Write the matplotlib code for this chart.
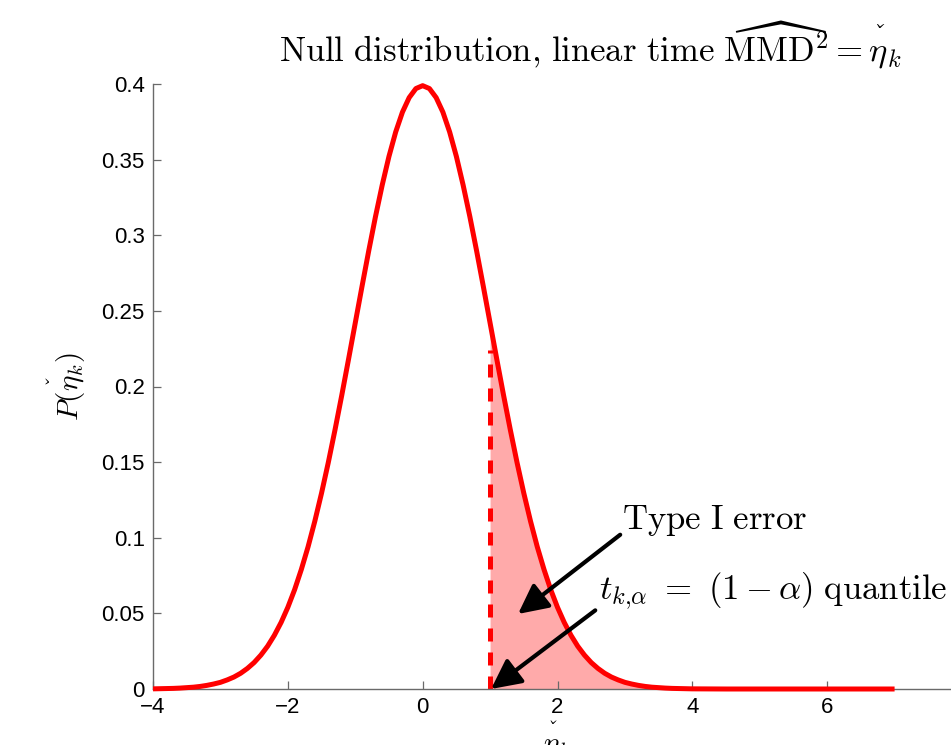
import numpy as np
import matplotlib
matplotlib.use('Agg')
import matplotlib.pyplot as plt

plt.rcParams['mathtext.fontset'] = 'cm'
plt.rcParams['font.family'] = ['Liberation Sans', 'DejaVu Sans']

# curve (null density of the statistic)
eta = [-4.0, -3.9, -3.8, -3.7, -3.6, -3.5, -3.4, -3.3, -3.2, -3.1,
       -3.0, -2.9, -2.8, -2.7, -2.6, -2.5, -2.4, -2.3, -2.2, -2.1,
       -2.0, -1.9, -1.8, -1.7, -1.6, -1.5, -1.4, -1.3, -1.2, -1.1,
       -1.0, -0.9, -0.8, -0.7, -0.6, -0.5, -0.4, -0.3, -0.2, -0.1,
       0.0, 0.1, 0.2, 0.3, 0.4, 0.5, 0.6, 0.7, 0.8, 0.9,
       1.0, 1.1, 1.2, 1.3, 1.4, 1.5, 1.6, 1.7, 1.8, 1.9,
       2.0, 2.1, 2.2, 2.3, 2.4, 2.5, 2.6, 2.7, 2.8, 2.9,
       3.0, 3.1, 3.2, 3.3, 3.4, 3.5, 3.6, 3.7, 3.8, 3.9,
       4.0, 4.5, 5.0, 5.5, 6.0, 6.5, 7.0]
dens = [0.0001, 0.0002, 0.0003, 0.0004, 0.0006, 0.0009, 0.0012, 0.0017, 0.0024, 0.0033,
        0.0044, 0.0060, 0.0079, 0.0104, 0.0136, 0.0175, 0.0224, 0.0283, 0.0355, 0.0440,
        0.0540, 0.0656, 0.0790, 0.0940, 0.1109, 0.1295, 0.1497, 0.1714, 0.1942, 0.2179,
        0.2420, 0.2661, 0.2897, 0.3123, 0.3332, 0.3521, 0.3683, 0.3814, 0.3910, 0.3970,
        0.3989, 0.3970, 0.3910, 0.3814, 0.3683, 0.3521, 0.3332, 0.3123, 0.2897, 0.2661,
        0.2420, 0.2179, 0.1942, 0.1714, 0.1497, 0.1295, 0.1109, 0.0940, 0.0790, 0.0656,
        0.0540, 0.0440, 0.0355, 0.0283, 0.0224, 0.0175, 0.0136, 0.0104, 0.0079, 0.0060,
        0.0044, 0.0033, 0.0024, 0.0017, 0.0012, 0.0009, 0.0006, 0.0004, 0.0003, 0.0002,
        0.0001, 0.0, 0.0, 0.0, 0.0, 0.0, 0.0]

quantile = 1.0        # t_{k,alpha}
quantile_top = 0.224  # top of the dashed marker

xticks = [-4, -2, 0, 2, 4, 6]
yticks = [0, 0.05, 0.1, 0.15, 0.2, 0.25, 0.3, 0.35, 0.4]
ytick_labels = ['0', '0.05', '0.1', '0.15', '0.2', '0.25', '0.3', '0.35', '0.4']

# annotation points (tail -> tip), data coords
err_text = (2.96, 0.106)
err_tail, err_tip = (2.93, 0.102), (1.415, 0.0496)
q_text = (2.62, 0.059)
q_tail, q_tip = (2.56, 0.052), (1.015, 0.0)

eta = np.array(eta)
dens = np.array(dens)

ETA = r'\overset{ˇ}{\eta}'

fig = plt.figure(figsize=(9.51, 7.45), dpi=100)
ax = fig.add_axes([153/951, 1 - 689/745, 809/951, 605/745])

ax.fill_between(eta, dens, where=eta >= quantile, color='#ffaaaa', lw=0, zorder=1)
ax.plot(eta, dens, color='red', lw=3.6, clip_on=False, zorder=3, solid_capstyle='butt')
ax.plot([quantile, quantile], [0, quantile_top], color='red', lw=3.6,
        linestyle=(0, (2.6, 2.2)), dash_capstyle='butt', zorder=2)

ax.set_xlim(-4, 8)
ax.set_ylim(0, 0.4)
ax.set_xticks(xticks)
ax.set_yticks(yticks)
ax.set_yticklabels(ytick_labels)

for s in ['top', 'right']:
    ax.spines[s].set_visible(False)
for s in ['left', 'bottom']:
    ax.spines[s].set_color('#6a6a6a')
    ax.spines[s].set_linewidth(1.0)
ax.tick_params(direction='in', length=5.5, width=0.9, color='#6a6a6a',
               labelsize=16, pad=6, labelcolor='black')

arrow = dict(arrowstyle='-|>,head_length=0.6,head_width=0.3', lw=3, color='black',
             shrinkA=0, shrinkB=0, mutation_scale=30)
ax.annotate('', xy=err_tip, xytext=err_tail, arrowprops=arrow, zorder=5)
ax.annotate('', xy=q_tip, xytext=q_tail, arrowprops=arrow, zorder=5)
ax.text(*err_text, r'$\mathrm{Type\ I\ error}$', fontsize=25, va='baseline', ha='left')
ax.text(*q_text, r'$t_{k{,}\alpha}\ =\ (1-\alpha)\ \mathrm{quantile}$', fontsize=25,
        va='baseline', ha='left', clip_on=False)

ax.set_ylabel(r'$P(' + ETA + r'_k)$', fontsize=21)
ax.yaxis.set_label_coords(-0.08, 0.5)
ax.set_xlabel(r'$' + ETA + r'_k$', fontsize=21)
ax.xaxis.set_label_coords(0.5, -0.05)

fig.text(590/951, 1 - 62/745,
         r'$\mathrm{Null\ distribution{,}\ linear\ time\ }\widehat{\mathrm{MMD}}^2 = ' + ETA + r'_k$',
         fontsize=25, ha='center', va='baseline')

fig.savefig('out.png', dpi=100)
